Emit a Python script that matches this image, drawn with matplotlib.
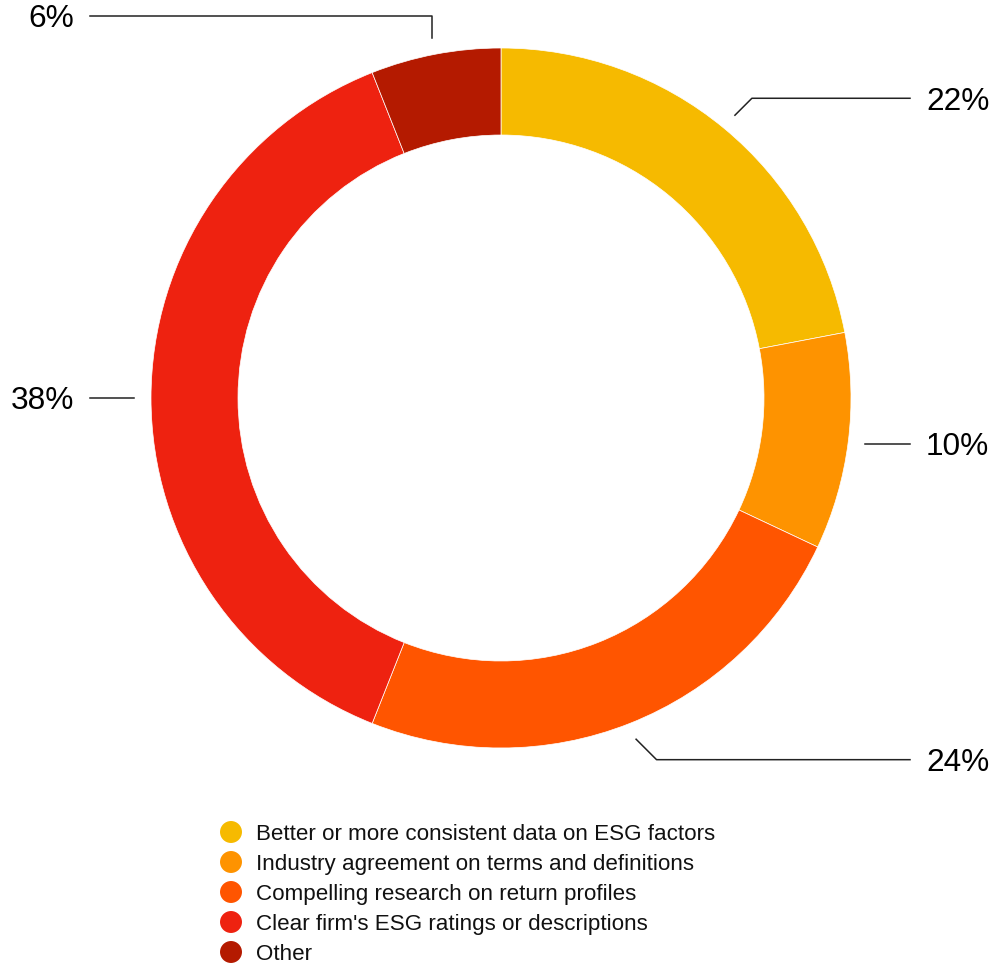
import numpy as np
import matplotlib.pyplot as plt

plt.rcParams['font.family'] = ['Liberation Sans', 'DejaVu Sans']

labels = ["Better or more consistent data on ESG factors",
          "Industry agreement on terms and definitions",
          "Compelling research on return profiles",
          "Clear firm's ESG ratings or descriptions",
          "Other"]
shares = [22, 10, 24, 38, 6]
colors = ["#F6BA00", "#FE9300", "#FF5500", "#EE2210", "#B41A00"]

W, H = 995, 964
fig = plt.figure(figsize=(W / 100, H / 100), dpi=100)
ax = fig.add_axes([0, 0, 1, 1])

cx, cy, R = 501, H - 398, 350
wedges, _ = ax.pie(shares, colors=colors, startangle=90, counterclock=False,
                   center=(cx, cy), radius=R, frame=True,
                   wedgeprops=dict(width=87, edgecolor='white', linewidth=0.5))
ax.set_xlim(0, W)
ax.set_ylim(0, H)
ax.set_aspect('equal')
ax.axis('off')

# leader lines and percentage labels
for w, v in zip(wedges, shares):
    ang = np.deg2rad((w.theta1 + w.theta2) / 2)
    c, s = np.cos(ang), np.sin(ang)
    x0, y0 = cx + 367 * c, cy + 367 * s
    y1 = cy + 389 * s
    if abs(s) < 0.2:      # near horizontal: straight line
        x1, y1 = x0, y0
    elif abs(c) < 0.25:   # near vertical: go straight up first
        x1 = x0
    else:                 # 45 degree kink out to the label row
        x1 = x0 + np.sign(c) * abs(y1 - y0)
    if c >= 0:
        x2, tx, ha = 910, 926, 'left'
    else:
        x2, tx, ha = 90, 74, 'right'
    ax.plot([x0, x1, x2], [y0, y1, y1], color='#222222', lw=1.1)
    ax.text(tx, y1, f"{v}%", ha=ha, va='center_baseline', fontsize=22.8, color='black')

# legend
for i, (lab, col) in enumerate(zip(labels, colors)):
    y = H - (832 + i * 30)
    ax.scatter([231], [y], s=250, color=col, edgecolors='none')
    ax.text(256, y, lab, ha='left', va='center_baseline', fontsize=16.1, color='#111111')

fig.savefig("out.png", dpi=100)
